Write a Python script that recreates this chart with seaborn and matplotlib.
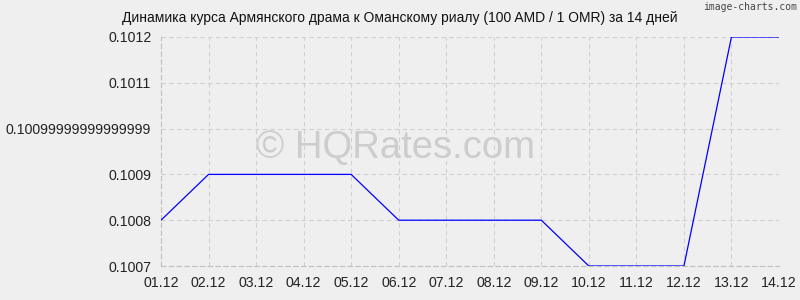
import matplotlib
matplotlib.use("Agg")
import matplotlib.pyplot as plt
import seaborn as sns
import pandas as pd

dates = ["01.12", "02.12", "03.12", "04.12", "05.12", "06.12", "07.12",
         "08.12", "09.12", "10.12", "11.12", "12.12", "13.12", "14.12"]
rates = [0.1008, 0.1009, 0.1009, 0.1009, 0.1009, 0.1008, 0.1008,
         0.1008, 0.1008, 0.1007, 0.1007, 0.1007, 0.1012, 0.1012]
ytick_values = [0.1007, 0.1008, 0.1009, 0.1010, 0.1011, 0.1012]
ytick_labels = ["0.1007", "0.1008", "0.1009", "0.10099999999999999", "0.1011", "0.1012"]
title = "Динамика курса Армянского драма к Оманскому риалу (100 AMD / 1 OMR) за 14 дней"

sns.set_theme(style="white")
plt.rcParams['font.family'] = ['Liberation Sans', 'DejaVu Sans']

df = pd.DataFrame({"x": range(len(dates)), "rate": rates})

fig = plt.figure(figsize=(8, 3), dpi=100, facecolor="#efefef")
ax = fig.add_axes([161/800, 1-266/300, (779-161)/800, (266-37)/300])
ax.set_facecolor("#efefef")

fig.text(395/800, 1-148/300, "© HQRates.com", fontsize=27.5, color="#cdcdcd",
         ha="center", va="center", zorder=0)

sns.lineplot(data=df, x="x", y="rate", ax=ax, color="#0000ff", linewidth=0.9, zorder=3)

ax.set_xlim(0, len(dates)-1)
ax.set_ylim(0.1007, 0.1012)
ax.set_xticks(range(len(dates)))
ax.set_xticklabels(dates, fontsize=10.2)
ax.set_yticks(ytick_values)
ax.set_yticklabels(ytick_labels, fontsize=10.2)
ax.set_xlabel("")
ax.set_ylabel("")
ax.grid(True, color="#d0d0d0", linestyle=(0, (4, 3)), linewidth=0.8)
for s in ["top", "right"]:
    ax.spines[s].set_visible(False)
for s in ["left", "bottom"]:
    ax.spines[s].set_color("#c0c0c0")
    ax.spines[s].set_linestyle((0, (4, 3)))
    ax.spines[s].set_linewidth(0.8)
ax.tick_params(axis="both", length=4, color="#c0c0c0", colors="#222222", pad=3)
ax.tick_params(axis="x", length=4, pad=3)

fig.text(400/800, 1-18/300, title, fontsize=10, ha="center", va="center", color="#111111")
fig.text(797/800, 1-7/300, "image-charts.com", fontsize=7, ha="right", va="center",
         color="#444444", family="DejaVu Sans Mono")

fig.savefig("out.png", dpi=100, facecolor="#efefef")
